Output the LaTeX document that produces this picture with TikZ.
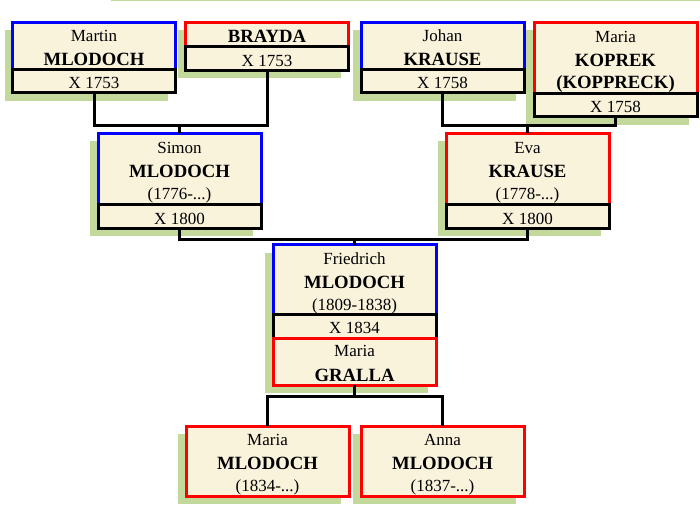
\documentclass[tikz,border=0pt]{standalone}
\usepackage{fontspec}
\setmainfont{Liberation Serif}
\usetikzlibrary{positioning}
\pgfdeclarelayer{background}
\pgfsetlayers{background,main}
\definecolor{cream}{RGB}{250,243,220}
\definecolor{leaf}{RGB}{195,217,155}
\newcommand{\surname}[1]{{\fontsize{18.7}{24.5}\selectfont\bfseries #1}}
\newcommand{\topgap}{\rule{0pt}{15pt}}

\begin{document}
\begin{tikzpicture}[x=1pt, y=-1pt,
      person/.style={draw, line width=3pt, fill=cream, minimum width=163pt, inner sep=0pt, outer sep=0pt, align=center, anchor=north west, font=\fontsize{17}{24.5}\selectfont},
      male/.style={person, draw=blue},
      female/.style={person, draw=red},
      marriage/.style={person, draw=black, minimum height=23.5pt},
      shadow/.style={fill=leaf},
      link/.style={draw=black, line width=3pt}
    ]

      \useasboundingbox (0,0) rectangle (700,510);

      % Great-grandparents, top row
      \node[male, minimum height=47pt] (martin) at (12.5,22.5) {\topgap Martin\\\surname{MLODOCH}};
      \node[marriage, below=0pt of martin] (martin_x) {\topgap X 1753};
      \node[female, minimum height=24.5pt] (brayda) at (185.5,22.5) {\topgap\surname{BRAYDA}};
      \node[marriage, below=0pt of brayda] (brayda_x) {\topgap X 1753};
      \node[male, minimum height=47pt] (johan) at (361,22.5) {\topgap Johan\\\surname{KRAUSE}};
      \node[marriage, below=0pt of johan] (johan_x) {\topgap X 1758};
      \node[female, minimum height=71pt] (koprek) at (534,22.5) {\topgap Maria\\\surname{KOPREK}\\[-2.5pt]\surname{\smash{(KOPPRECK)}}};
      \node[marriage, below=0pt of koprek] (koprek_x) {\topgap X 1758};

      % Grandparents
      \node[male, minimum height=71.5pt] (simon) at (98,133.5) {\topgap Simon\\\surname{MLODOCH}\\[-2.5pt]\smash{(1776-...)}};
      \node[marriage, below=0pt of simon] (simon_x) {\topgap X 1800};
      \node[female, minimum height=71.5pt] (eva) at (446,133.5) {\topgap Eva\\\surname{KRAUSE}\\[-2.5pt]\smash{(1778-...)}};
      \node[marriage, below=0pt of eva] (eva_x) {\topgap X 1800};

      % Parents, stacked in one block
      \node[male, minimum height=69.5pt] (friedrich) at (273,245) {\topgap Friedrich\\\surname{MLODOCH}\\[-2.5pt]\smash{(1809-1838)}};
      \node[marriage, below=0pt of friedrich] (friedrich_x) {\topgap X 1834};
      \node[female, minimum height=47pt, below=0pt of friedrich_x] (gralla) {\topgap Maria\\\surname{GRALLA}};

      % Children
      \node[female, minimum height=70pt] (maria_child) at (186,426) {\topgap Maria\\\surname{MLODOCH}\\[-2.5pt]\smash{(1834-...)}};
      \node[female, minimum height=70pt] (anna_child) at (361,426) {\topgap Anna\\\surname{MLODOCH}\\[-2.5pt]\smash{(1837-...)}};

      % Green shadows behind every block
      \begin{pgfonlayer}{background}
        \foreach \uppernode/\lowernode in {martin/martin_x, brayda/brayda_x, johan/johan_x, koprek/koprek_x, simon/simon_x, eva/eva_x, friedrich/gralla, maria_child/maria_child, anna_child/anna_child} {
          \fill[shadow] ([shift={(-8pt,-8pt)}]\uppernode.north west) rectangle ([shift={(-8pt,-8pt)}]\lowernode.south east);
        }
        \fill[shadow] (111,0) rectangle (700,1.5);
      \end{pgfonlayer}

      % Connectors, left couple to Simon
      \coordinate (join_left) at ([yshift=8pt]simon.north);
      \draw[link] (martin_x.south) |- (join_left) -| (brayda_x.south);
      \draw[link] (join_left) -- (simon.north);

      % Right couple to Eva
      \coordinate (join_right) at ([yshift=8pt]eva.north);
      \draw[link] (johan_x.south) |- (join_right) -| (koprek_x.south);
      \draw[link] (join_right) -- (eva.north);

      % Simon and Eva to Friedrich
      \coordinate (join_mid) at ([yshift=5pt]friedrich.north);
      \draw[link] (simon_x.south) |- (join_mid) -| (eva_x.south);
      \draw[link] (join_mid) -- (friedrich.north);

      % Parents to children
      \coordinate (join_kids) at ([yshift=-11pt]gralla.south);
      \draw[link] (gralla.south) -- (join_kids);
      \draw[link] (maria_child.north) |- (join_kids) -| (anna_child.north);

    \end{tikzpicture}
\end{document}
